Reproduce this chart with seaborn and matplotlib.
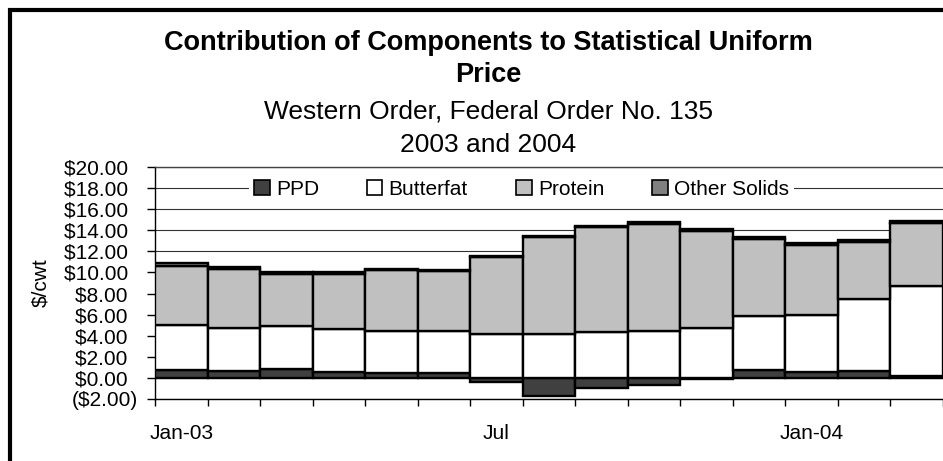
import numpy as np
import pandas as pd
import matplotlib
matplotlib.use('Agg')
import matplotlib.pyplot as plt
import seaborn as sns
from matplotlib.patches import Patch, Rectangle

# monthly component values ($/cwt)
months = ['Jan-03', 'Feb-03', 'Mar-03', 'Apr-03', 'May-03', 'Jun-03', 'Jul-03', 'Aug-03',
          'Sep-03', 'Oct-03', 'Nov-03', 'Dec-03', 'Jan-04', 'Feb-04', 'Mar-04']
ppd = [0.75, 0.7, 0.8, 0.6, 0.45, 0.45, -0.4, -1.75, -0.98, -0.7, -0.1, 0.75, 0.6, 0.7, 0.2]
butterfat = [4.25, 4.0, 4.1, 4.0, 4.0, 4.0, 4.15, 4.2, 4.4, 4.45, 4.7, 5.15, 5.4, 6.8, 8.5]
protein = [5.65, 5.65, 4.95, 5.3, 5.75, 5.65, 7.3, 9.15, 9.9, 10.1, 9.25, 7.3, 6.6, 5.4, 6.0]
other_solids = [0.2, 0.2, 0.2, 0.15, 0.15, 0.15, 0.1, 0.1, 0.15, 0.25, 0.2, 0.2, 0.2, 0.2, 0.2]

components = ['PPD', 'Butterfat', 'Protein', 'Other Solids']
colors = ['#404040', '#ffffff', '#c0c0c0', '#808080']
xtick_labels = {'Jan-03': 'Jan-03', 'Jul-03': 'Jul', 'Jan-04': 'Jan-04'}
yticks = list(range(-2, 21, 2))

sns.set_style('white')
plt.rcParams['font.family'] = ['Liberation Sans', 'DejaVu Sans']
plt.rcParams.update({'text.color': 'black', 'axes.labelcolor': 'black',
                     'xtick.color': 'black', 'ytick.color': 'black'})

df = pd.DataFrame({'month': months, 'PPD': ppd, 'Butterfat': butterfat,
                   'Protein': protein, 'Other Solids': other_solids})

# excel-style stacking: negative PPD hangs below zero, the rest stacks up from max(PPD, 0)
bottoms = {'PPD': np.zeros(len(df))}
running = df['PPD'].clip(lower=0).to_numpy()
for comp in components[1:]:
    bottoms[comp] = running.copy()
    running = running + df[comp].to_numpy()

fig = plt.figure(figsize=(9.43, 4.61), dpi=100)
ax = fig.add_axes([155/943, 1-399/461, 1-155/943, (399-167)/461])

for comp, col in zip(components, colors):
    sns.barplot(data=df, x='month', y=comp, order=months, color=col, saturation=1,
                errorbar=None, width=1.0, edgecolor='black', linewidth=1.7,
                bottom=bottoms[comp], ax=ax, zorder=3)

ax.set_xlim(-0.5, len(months)-0.5)
ax.set_ylim(-2, 20)
ax.set_yticks(yticks)
ax.set_yticklabels([f'${v:.2f}\u2002' if v >= 0 else f'(${-v:.2f})' for v in yticks], fontsize=15)
ax.tick_params(axis='y', length=6, width=1, color='black', pad=6, direction='out', left=True)

major = [months.index(m) for m in xtick_labels]
ax.set_xticks(major)
ax.set_xticklabels(list(xtick_labels.values()), fontsize=15)
ax.set_xticks(np.arange(-0.5, len(months), 1), minor=True)
ax.tick_params(axis='x', which='major', length=0, pad=18)
ax.tick_params(axis='x', which='minor', length=5, width=1, color='black', direction='out', bottom=True)

ax.yaxis.grid(True, color='#333333', linewidth=0.8)
ax.set_axisbelow(True)
ax.set_xlabel('')
ax.set_ylabel('$/cwt', fontsize=15)
ax.yaxis.set_label_coords((50-155)/788, 0.5)

for side in ['left', 'bottom']:
    ax.spines[side].set_color('black')
    ax.spines[side].set_linewidth(1)
ax.spines['top'].set_color('#444444')
ax.spines['top'].set_linewidth(1)
ax.spines['right'].set_visible(False)

handles = [Patch(facecolor=c, edgecolor='black', linewidth=1.2) for c in colors]
leg = ax.legend(handles, components, loc='center', bbox_to_anchor=(0.465, 0.905), ncol=4,
                frameon=True, facecolor='white', edgecolor='none', framealpha=1, fancybox=False,
                fontsize=15, handlelength=0.75, handleheight=0.75, handletextpad=0.3,
                columnspacing=2.3, borderpad=0.25)
leg.set_zorder(5)

cx = 488/943
fig.text(cx, 1-43/461, 'Contribution of Components to Statistical Uniform', ha='center', va='center',
         fontsize=19.5, fontweight='bold')
fig.text(cx, 1-75/461, 'Price', ha='center', va='center', fontsize=19.5, fontweight='bold')
fig.text(cx, 1-112/461, 'Western Order, Federal Order No. 135', ha='center', va='center', fontsize=19)
fig.text(cx, 1-145/461, '2003 and 2004', ha='center', va='center', fontsize=19)

# chart-area border (only the top and left edges fall inside the picture)
fig.add_artist(Rectangle((10/943, -1), 5, 2-10/461, transform=fig.transFigure,
                         fill=False, edgecolor='black', linewidth=3))

fig.savefig('out.png', dpi=100)
